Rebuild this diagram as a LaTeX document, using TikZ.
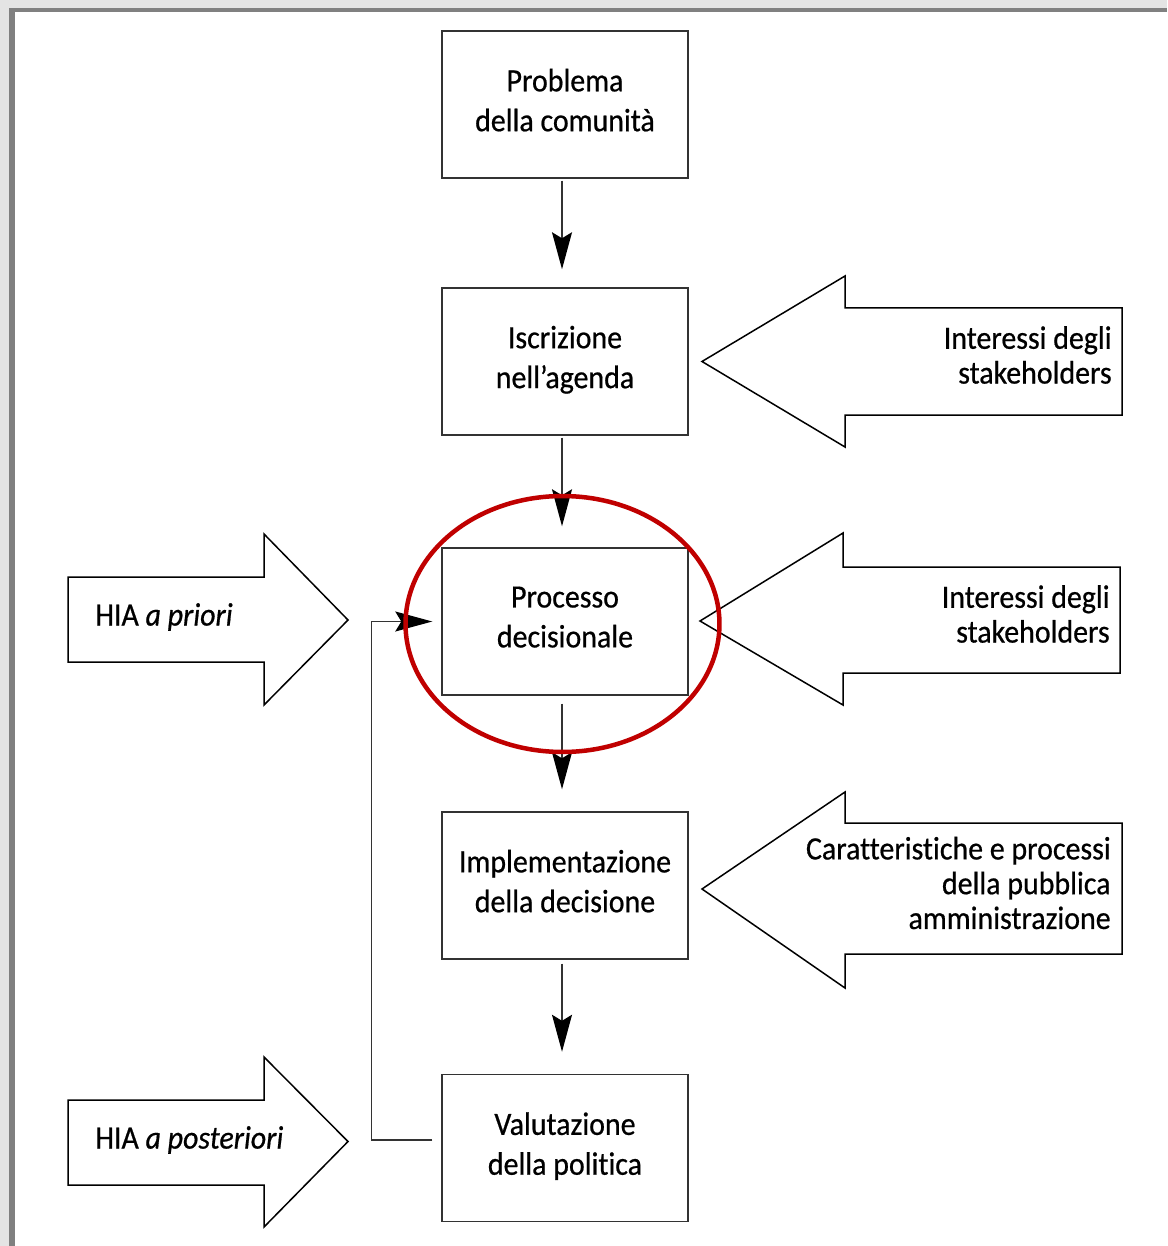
\documentclass[tikz,border=0pt]{standalone}
\usepackage{fontspec}
\setmainfont{Carlito}[FakeStretch=0.92, FakeBold=0.6, Ligatures={TeX,NoCommon}]
\usepackage{xcolor}
\usepackage{tikz}
\usetikzlibrary{arrows.meta, positioning}
\definecolor{pageframe}{RGB}{128,128,128}
\definecolor{outside}{RGB}{228,228,228}
\definecolor{boxline}{RGB}{51,51,51}
\definecolor{hired}{RGB}{192,0,0}

\begin{document}
\begin{tikzpicture}[x=0.02cm, y=-0.02cm,
    stepbox/.style={draw=boxline, line width=0.03cm, rectangle, minimum width=4.92cm, minimum height=2.94cm, text depth=0.18cm, align=center, font=\fontsize{18.5}{22.7}\selectfont},
    flow/.style={draw=boxline, line width=0.03cm, -{Stealth[length=0.74cm, width=0.4cm, inset=0.12cm, black]}},
    bigarrow/.style={draw=black, line width=0.03cm, fill=white},
    arrowtext/.style={align=right, inner sep=0pt, font=\fontsize{18.5}{19.8}\selectfont}]
    \fill[outside] (0,0) rectangle (1167,1246);
    \fill[white] (12,10.5) rectangle (1167,1246);
    \fill[pageframe] (9,8.5) rectangle (1167,12.5);
    \fill[pageframe] (9,8.5) rectangle (15,1246);
    \useasboundingbox (0,0) rectangle (1167,1246);

    \node[stepbox] (problema) at (565,104.5) {Problema\\della comunità};
    \node[stepbox] (agenda) at (565,361.5) {Iscrizione\\nell’agenda};
    \node[stepbox] (processo) at (565,621.5) {Processo\\decisionale};
    \node[stepbox] (implementazione) at (565,885.5) {Implementazione\\della decisione};
    \node[stepbox] (valutazione) at (565,1148) {Valutazione\\della politica};

    \draw[flow] ([xshift=-0.06cm, yshift=-0.04cm]problema.south) -- ([xshift=-0.06cm, yshift=0.36cm]agenda.north);
    \draw[flow] ([xshift=-0.06cm, yshift=-0.04cm]agenda.south) -- ([xshift=-0.06cm, yshift=0.42cm]processo.north);
    \draw[flow] ([xshift=-0.06cm, yshift=-0.16cm]processo.south) -- ([xshift=-0.06cm, yshift=0.44cm]implementazione.north);
    \draw[flow] ([xshift=-0.06cm, yshift=-0.08cm]implementazione.south) -- ([xshift=-0.06cm, yshift=0.44cm]valutazione.north);
    \draw[flow] ([xshift=-0.18cm, yshift=0.16cm]valutazione.west) -- ++(-61,0) |- ([xshift=-0.18cm]processo.west);

    \draw[bigarrow] (702,361.5) -- (845,276) -- (845,308) -- (1122,308) -- (1122,415) -- (845,415) -- (845,447) -- cycle;
    \node[arrowtext, anchor=east] (stake1) at (1112,355) {Interessi degli\\stakeholders};
    \draw[bigarrow] (700,621) -- (843,533) -- (843,567) -- (1120,567) -- (1120,673) -- (843,673) -- (843,705) -- cycle;
    \node[arrowtext, anchor=east] (stake2) at (1110,614) {Interessi degli\\stakeholders};
    \draw[bigarrow] (702,889) -- (845,792) -- (845,823) -- (1122,823) -- (1122,954) -- (845,954) -- (845,988) -- cycle;
    \node[arrowtext, anchor=east] (pubblica) at (1111,883) {Caratteristiche e processi\\della pubblica\\amministrazione};

    \draw[bigarrow] (68,577) -- (264,577) -- (264,534) -- (348,620) -- (264,705) -- (264,662) -- (68,662) -- cycle;
    \node[arrowtext, anchor=west] (priori) at (95,617) {HIA \textit{a priori}};
    \draw[bigarrow] (68,1100) -- (264,1100) -- (264,1057) -- (348,1141.5) -- (264,1227) -- (264,1185) -- (68,1185) -- cycle;
    \node[arrowtext, anchor=west] (posteriori) at (95,1140) {HIA \textit{a posteriori}};

    \draw[hired, line width=0.09cm] (562.5,624) ellipse [x radius=3.14cm, y radius=2.56cm];
\end{tikzpicture}
\end{document}
